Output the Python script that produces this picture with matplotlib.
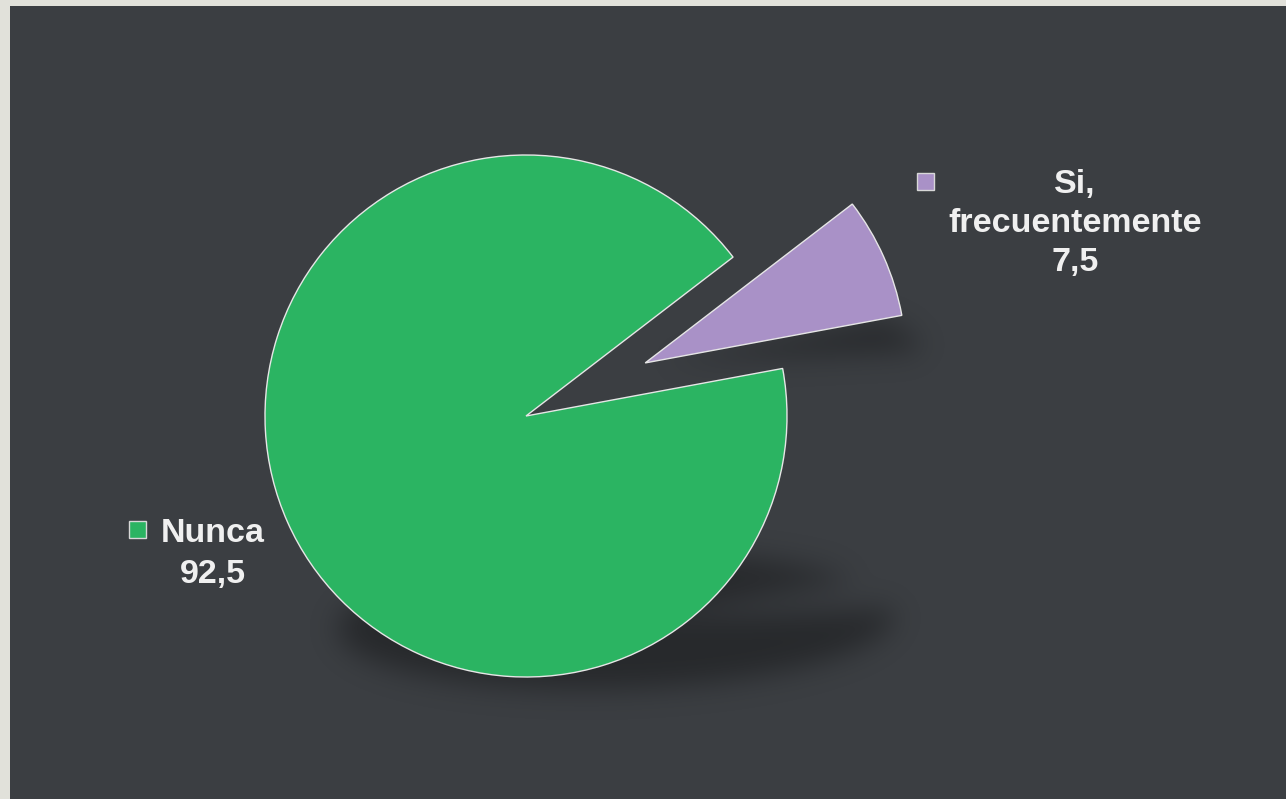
import numpy as np
import matplotlib
matplotlib.use("Agg")
import matplotlib.pyplot as plt
from matplotlib.patches import Rectangle

# ---- data ----
categories = ["Nunca", "Si,\nfrecuentemente"]
values = [92.5, 7.5]
value_labels = ["92,5", "7,5"]
colors = ["#2bb462", "#a991c7"]
explode = [0.0, 0.5]

W, H = 1286, 799
fig = plt.figure(figsize=(W / 100, H / 100), dpi=100)
fig.patch.set_facecolor("#e1e1da")
ax = fig.add_axes([0, 0, 1, 1])
ax.set_axis_off()

# dark panel
ax.add_patch(Rectangle((10, 0), W - 10, H - 6, facecolor="#3b3e42", edgecolor="none", zorder=0))

cx, cy_img, R = 526, 416, 261
cy = H - cy_img
startangle = 37.5

# ---- soft shadow (image coordinates) ----
Yi, Xi = np.mgrid[0:H, 0:W] + 0.5
total = sum(values)
angles = [startangle]
for v in values:
    angles.append(angles[-1] + 360 * v / total)


def wedge_mask(x, y, ccx, ccy, r, a1, a2):
    dx = x - ccx
    dy = ccy - y
    rr = np.hypot(dx, dy)
    ang = (np.degrees(np.arctan2(dy, dx)) - a1) % 360
    return (rr <= r) & (ang <= (a2 - a1))


mask = np.zeros((H, W))
for i, v in enumerate(values):
    a1, a2 = angles[i], angles[i + 1]
    mid = np.radians((a1 + a2) / 2)
    off = explode[i] * R
    wcx = cx + off * np.cos(mid)
    wcy = cy_img - off * np.sin(mid)
    if explode[i] == 0:
        ybot, s, dy, shx, k, sx = wcy + R, 0.26, 12, 60, 0.115, 1.06
    else:
        ybot, s, dy, shx, k, sx = 365, 0.26, -2, 15, 0.1, 1.0
    y_src = ybot - (ybot + dy - Yi) / s
    x_src = wcx + (Xi - shx - k * (ybot - y_src) - wcx) / sx
    mask = np.maximum(mask, wedge_mask(x_src, y_src, wcx, wcy, R, a1, a2).astype(float))

sig = 14
kx = np.arange(-3 * sig, 3 * sig + 1)
kern = np.exp(-kx ** 2 / (2 * sig ** 2))
kern /= kern.sum()
blur = np.apply_along_axis(lambda r: np.convolve(r, kern, mode="same"), 1, mask)
blur = np.apply_along_axis(lambda c: np.convolve(c, kern, mode="same"), 0, blur)
rgba = np.zeros((H, W, 4))
rgba[..., 3] = blur * 0.34
ax.imshow(rgba, extent=(0, W, 0, H), origin="upper", zorder=1, interpolation="bilinear")

# ---- pie ----
wedges, _ = ax.pie(values, colors=colors, explode=[e * R for e in explode],
                   startangle=startangle, center=(cx, cy), radius=R, counterclock=True,
                   wedgeprops=dict(edgecolor="#e6e6e6", linewidth=1.0))
for w in wedges:
    w.set_zorder(2)

ax.set_xlim(0, W)
ax.set_ylim(0, H)
ax.set_aspect("equal")

# ---- labels ----
fam = ["Liberation Sans", "DejaVu Sans"]
fs = 24.5
label_pos = [(213, [542, 583]), (1075, [193, 232, 271])]
marker_pos = [(137, 529.5), (925, 181)]
for i in range(len(values)):
    lines = categories[i].split("\n") + [value_labels[i]]
    x, bases = label_pos[i]
    for ln, b in zip(lines, bases):
        ax.text(x, H - b, ln, ha="center", va="baseline", fontsize=fs, fontweight="bold",
                color="#f0f0f0", family=fam, zorder=4)
    mx, my = marker_pos[i]
    ax.add_patch(Rectangle((mx - 8.5, H - my - 8.5), 17, 17, facecolor=colors[i],
                           edgecolor="#d8d8d8", linewidth=1, zorder=4))

fig.savefig("out.png", dpi=100, facecolor=fig.get_facecolor())
